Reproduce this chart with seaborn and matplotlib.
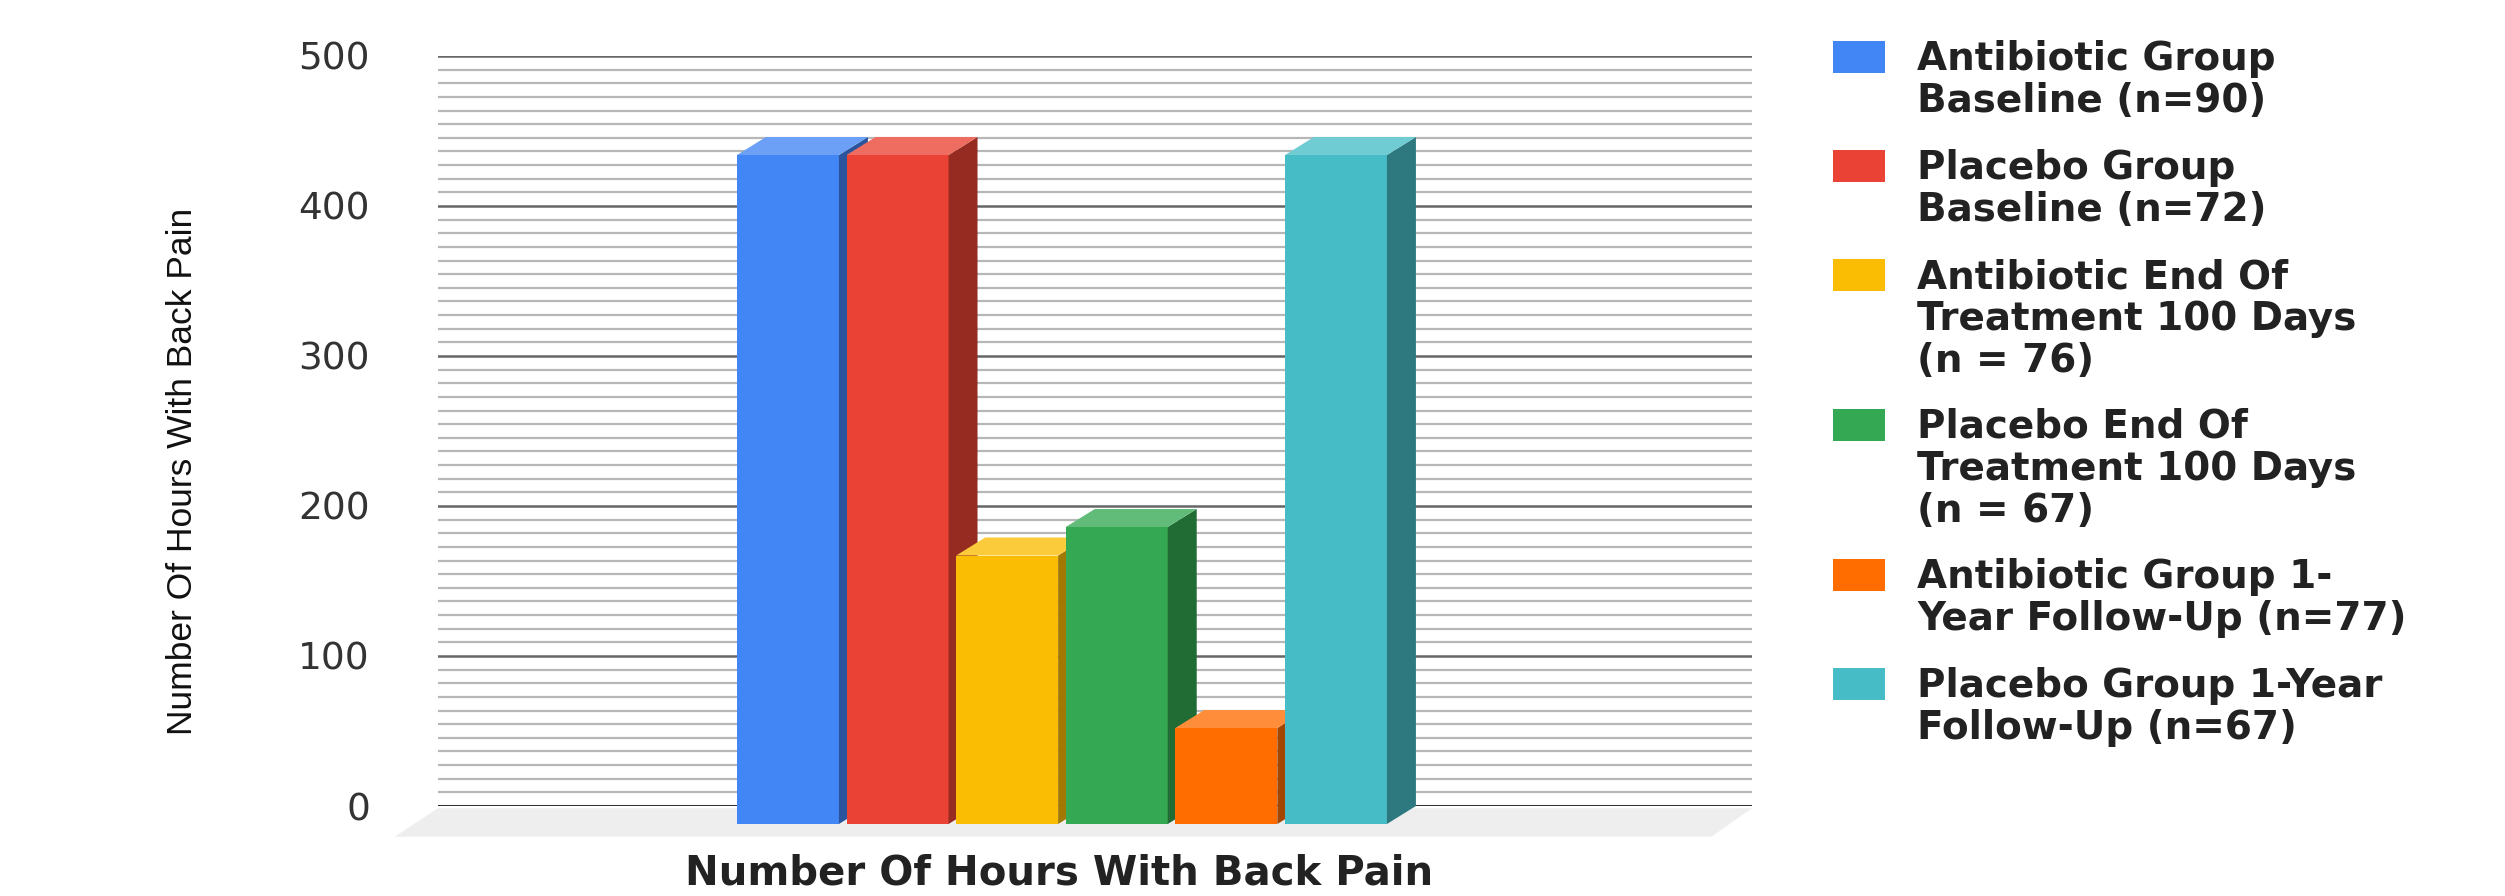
import matplotlib
matplotlib.use('Agg')
import matplotlib.pyplot as plt
import matplotlib.colors as mcolors
from matplotlib.patches import Polygon, Rectangle
from matplotlib.ticker import FixedLocator, MultipleLocator
import numpy as np
import seaborn as sns

# series (one bar each) as shown in the legend
groups = ['Antibiotic Group\nBaseline (n=90)',
          'Placebo Group\nBaseline (n=72)',
          'Antibiotic End Of\nTreatment 100 Days\n(n = 76)',
          'Placebo End Of\nTreatment 100 Days\n(n = 67)',
          'Antibiotic Group 1-\nYear Follow-Up (n=77)',
          'Placebo Group 1-Year\nFollow-Up (n=67)']
hours = [446, 446, 179, 198, 64, 446]
colors = ['#4285f4', '#ea4335', '#fbbc04', '#34a853', '#ff6d01', '#46bdc6']
y_ticks = [0, 100, 200, 300, 400, 500]
x_title = 'Number Of Hours With Back Pain'
y_title = 'Number Of Hours With Back Pain'

W, H = 2505, 896
fig = plt.figure(figsize=(W / 100, H / 100), dpi=100)


def px_box(x0, y0, x1, y1):
    # pixel box (top-left origin) -> figure fraction rect
    return [x0 / W, 1 - y1 / H, (x1 - x0) / W, (y1 - y0) / H]


# back wall with the gridlines
wall = fig.add_axes(px_box(438, 56, 1752, 806))
wall.set_xlim(0, 1)
wall.set_ylim(0, 500)
wall.yaxis.set_major_locator(FixedLocator(y_ticks))
wall.yaxis.set_minor_locator(MultipleLocator(100 / 11))
wall.grid(which='minor', axis='y', color='#b7b7b7', lw=1.6)
wall.grid(which='major', axis='y', color='#666666', lw=1.8)
wall.axhline(0, color='#333333', lw=2.2, zorder=3)
wall.set_xticks([])
for s in wall.spines.values():
    s.set_visible(False)
wall.tick_params(axis='y', which='both', length=0, pad=49, labelsize=27,
                 labelcolor='#333333')

# floor under the bars
floor = Polygon([(0, -0.003), (1, -0.003), (0.969, -0.041), (-0.033, -0.041)],
                closed=True, transform=wall.transAxes, facecolor='#eeeeee',
                edgecolor='none', clip_on=False, zorder=0)
wall.add_patch(floor)

# front faces of the bars
bars = fig.add_axes(px_box(438, 74, 1752, 824))
bars.patch.set_alpha(0)
sns.barplot(x=groups, y=hours, hue=groups, palette=colors, saturation=1,
            width=0.93, legend=False, ax=bars)
bars.set_xlim(-3.193, 8.796)
bars.set_ylim(0, 500)
bars.axis('off')

ddx = 29 / 109.6   # depth in category units
ddy = 12           # depth in value units
for i, p in enumerate(bars.patches):
    x0, w, h = p.get_x(), p.get_width(), p.get_height()
    base = np.array(mcolors.to_rgb(colors[i]))
    side_c = base * 0.64
    top_c = base + (1 - base) * 0.22
    p.set_zorder(10 + i)
    p.set_edgecolor('none')
    side = Polygon([(x0 + w, 0), (x0 + w + ddx, ddy), (x0 + w + ddx, h + ddy), (x0 + w, h)],
                   facecolor=side_c, edgecolor='none', clip_on=False, zorder=10 + i)
    top = Polygon([(x0, h), (x0 + ddx, h + ddy), (x0 + w + ddx, h + ddy), (x0 + w, h)],
                  facecolor=top_c, edgecolor='none', clip_on=False, zorder=10 + i)
    bars.add_patch(side)
    bars.add_patch(top)

# axis titles
fig.text(1059 / W, 1 - 873 / H, x_title, ha='center', va='center',
         fontsize=29, fontweight='bold', color='#222222')
fig.text(183 / W, 1 - 471 / H, y_title, ha='center', va='center', rotation=90,
         fontsize=25.5, color='#111111', family=['Liberation Sans', 'DejaVu Sans'])

# legend drawn by hand so the swatch sits on the first line
top_px = 41
for lab, c in zip(groups, colors):
    fig.add_artist(Rectangle((1833 / W, 1 - (top_px + 32) / H), 52 / W, 32 / H,
                             transform=fig.transFigure, facecolor=c, edgecolor='none'))
    fig.text(1917 / W, 1 - (top_px - 1) / H, lab, ha='left', va='top',
             fontsize=28, fontweight='bold', color='#222222', linespacing=1.14)
    top_px += lab.count('\n') * 41 + 41 + 27

fig.savefig('out.png', dpi=100)
